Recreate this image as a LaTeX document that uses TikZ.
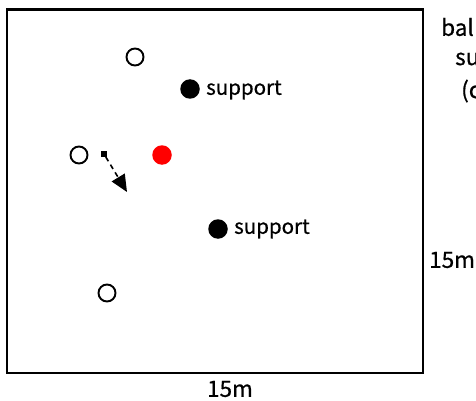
\documentclass[tikz,border=0pt]{standalone}
\usepackage{fontspec}
\setmainfont{Noto Sans CJK JP}[FakeBold=0.6]
\usetikzlibrary{arrows.meta}
\begin{document}
\begin{tikzpicture}[x=1pt,y=-1pt,
  opencirc/.style={circle,draw=black,line width=1.9pt,fill=white,minimum size=17pt,inner sep=0pt},
  blackdot/.style={circle,fill=black,minimum size=19.5pt,inner sep=0pt},
  reddot/.style={circle,fill=red,minimum size=19.5pt,inner sep=0pt},
  lbl/.style={font=\fontsize{20.5}{22}\selectfont,inner sep=0pt,anchor=west},
  dimlbl/.style={font=\fontsize{22.5}{24}\selectfont,inner sep=0pt}]
\useasboundingbox (0,0) rectangle (476,401);
\clip (0,0) rectangle (476,401);
\node[draw=black,line width=2.6pt,minimum width=416pt,minimum height=363pt,inner sep=0pt] (field) at (215,191.3) {};
\node[opencirc] (o1) at (135,57) {};
\node[opencirc] (o2) at (79,155) {};
\node[opencirc] (o3) at (107,293) {};
\node[blackdot] (s1) at (190,89) {};
\node[blackdot] (s2) at (218,229) {};
\node[reddot] (ball) at (162,155) {};
\node[lbl] (t1) at (206,90) {support};
\node[lbl] (t2) at (234,229) {support};
\node[fill=black,minimum size=5.5pt,inner sep=0pt] (sq) at (104,154) {};
\coordinate (tip) at (127,192);
\draw[line width=1.6pt,dash pattern=on 5pt off 4pt,-{Triangle[length=17pt,width=15pt]}] (sq) -- (tip);
\node[dimlbl] (wlab) at (230,389) {15m};
\node[dimlbl,anchor=west] (hlab) at (429,260) {15m};
\node[dimlbl,anchor=west] (r1) at (441,27) {bal};
\node[dimlbl,anchor=west] (r2) at (455,59) {su};
\node[dimlbl,anchor=west] (r3) at (461,91) {(c};
\end{tikzpicture}
\end{document}
